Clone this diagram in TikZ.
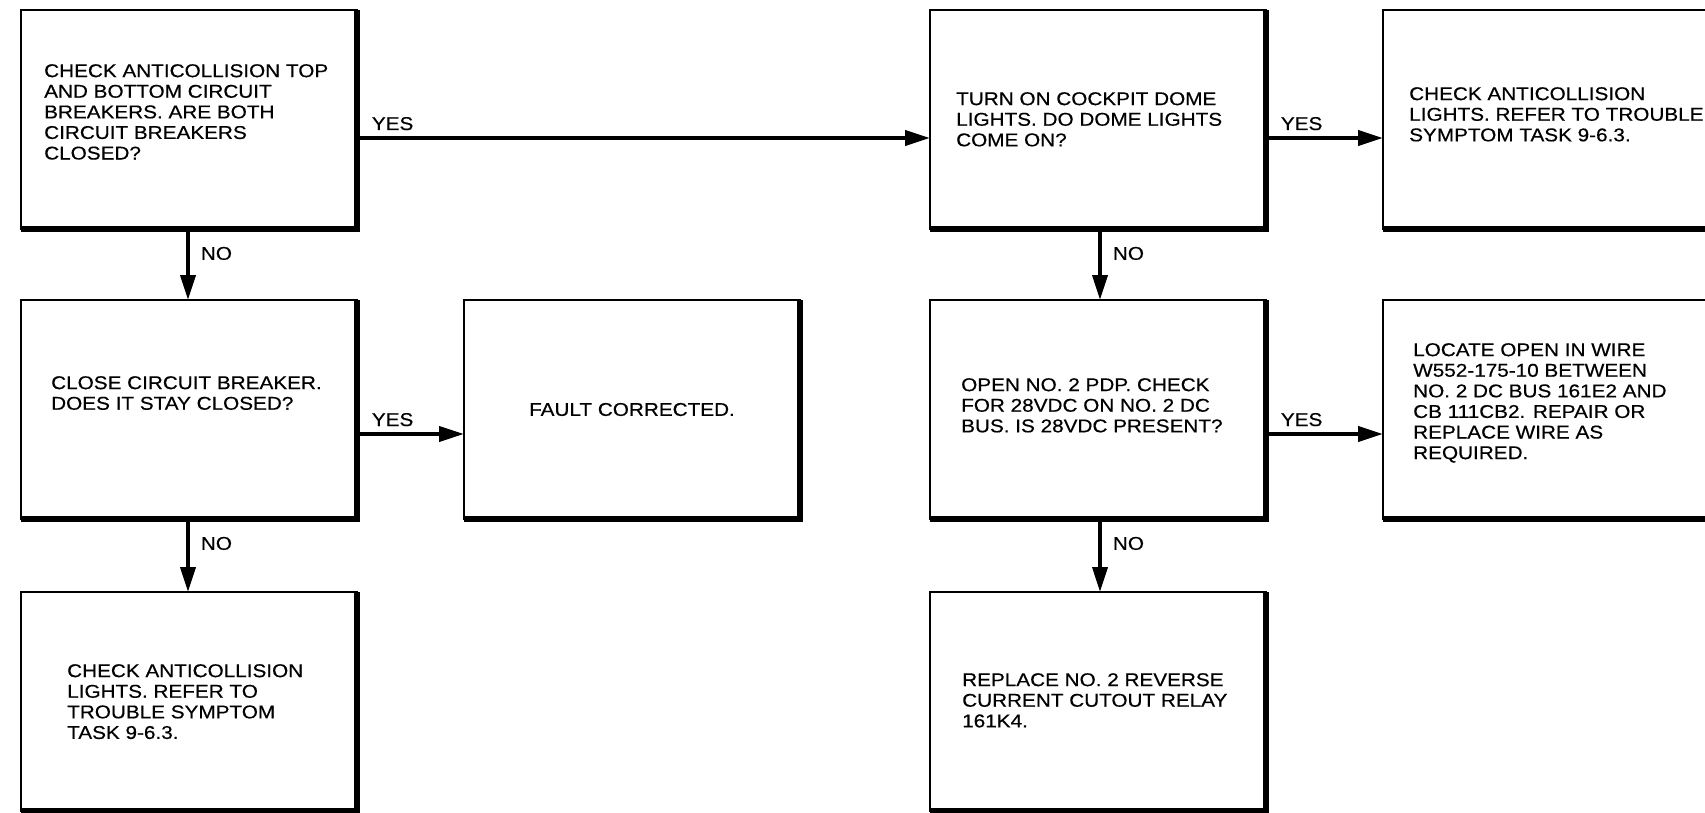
\documentclass[tikz,border=0pt]{standalone}
\usepackage{fontspec}
\setmainfont{Liberation Sans}[FakeStretch=1.12,FakeBold=0.4]
\usetikzlibrary{arrows.meta}
\begin{document}
\begin{tikzpicture}[x=1pt,y=-1pt,
  box/.style={draw, line width=2.2pt, rectangle, minimum width=336pt, minimum height=219pt, inner sep=0pt, outer sep=0pt, anchor=north west},
  heavyedge/.style={line width=6pt},
  txt/.style={font=\fontsize{18.5}{20.6}\selectfont, align=left, inner sep=0pt, anchor=north west},
  lbl/.style={font=\fontsize{18.5}{20.6}\selectfont, inner sep=0pt},
  arr/.style={line width=3.8pt, -{Triangle[length=25pt,width=15pt]}}]
\useasboundingbox (0,0) rectangle (1705,813);
\fill[white] (0,0) rectangle (1705,813);
\clip (0,0) rectangle (1705,813);
% boxes
\node[box] (b1) at (21,10) {};
\node[box] (turn) at (930,10) {};
\node[box] (rchk) at (1383,10) {};
\node[box] (close) at (21,300) {};
\node[box] (fault) at (464,300) {};
\node[box] (open) at (930,300) {};
\node[box] (locate) at (1383,300) {};
\node[box] (b3) at (21,592) {};
\node[box] (replace) at (930,592) {};
\foreach \n in {b1,turn,rchk,close,fault,open,locate,b3,replace}
  \draw[heavyedge] (\n.north east) -- (\n.south east) -- (\n.south west);
% texts
\node[txt] (b1t) at ([shift={(23,54)}]b1.north west) {CHECK ANTICOLLISION TOP\\AND BOTTOM CIRCUIT\\BREAKERS. ARE BOTH\\CIRCUIT BREAKERS\\CLOSED?};
\node[txt] (turnt) at ([shift={(26,82)}]turn.north west) {TURN ON COCKPIT DOME\\LIGHTS. DO DOME LIGHTS\\COME ON?};
\node[txt] (rchkt) at ([shift={(26,77)}]rchk.north west) {CHECK ANTICOLLISION\\LIGHTS. REFER TO TROUBLE\\SYMPTOM TASK 9-6.3.};
\node[txt] (closet) at ([shift={(30,76)}]close.north west) {CLOSE CIRCUIT BREAKER.\\DOES IT STAY CLOSED?};
\node[lbl] (faultt) at (fault.center) {FAULT CORRECTED.};
\node[txt] (opent) at ([shift={(31,78)}]open.north west) {OPEN NO. 2 PDP. CHECK\\FOR 28VDC ON NO. 2 DC\\BUS. IS 28VDC PRESENT?};
\node[txt] (locatet) at ([shift={(30,43)}]locate.north west) {LOCATE OPEN IN WIRE\\W552-175-10 BETWEEN\\NO. 2 DC BUS 161E2 AND\\CB 111CB2. REPAIR OR\\REPLACE WIRE AS\\REQUIRED.};
\node[txt] (b3t) at ([shift={(46,72)}]b3.north west) {CHECK ANTICOLLISION\\LIGHTS. REFER TO\\TROUBLE SYMPTOM\\TASK 9-6.3.};
\node[txt] (replacet) at ([shift={(32,81)}]replace.north west) {REPLACE NO. 2 REVERSE\\CURRENT CUTOUT RELAY\\161K4.};
% connectors
\draw[arr] ([yshift=-128pt]b1.north east) -- ([yshift=-128pt]turn.north west)
  node[lbl, pos=0, anchor=base west, xshift=13pt, yshift=8pt] (y1) {YES};
\draw[arr] ([yshift=-128pt]turn.north east) -- ([yshift=-128pt]rchk.north west)
  node[lbl, pos=0, anchor=base west, xshift=13pt, yshift=8pt] (y2) {YES};
\draw[arr] ([yshift=-134pt]close.north east) -- ([yshift=-134pt]fault.north west)
  node[lbl, pos=0, anchor=base west, xshift=13pt, yshift=8pt] (y3) {YES};
\draw[arr] ([yshift=-134pt]open.north east) -- ([yshift=-134pt]locate.north west)
  node[lbl, pos=0, anchor=base west, xshift=13pt, yshift=8pt] (y4) {YES};
\draw[arr] ([xshift=167pt]b1.south west) -- ([xshift=167pt]close.north west)
  node[lbl, pos=0, anchor=north west, xshift=11pt, yshift=-16pt] (n1) {NO};
\draw[arr] ([xshift=167pt]close.south west) -- ([xshift=167pt]b3.north west)
  node[lbl, pos=0, anchor=north west, xshift=11pt, yshift=-16pt] (n2) {NO};
\draw[arr] ([xshift=170pt]turn.south west) -- ([xshift=170pt]open.north west)
  node[lbl, pos=0, anchor=north west, xshift=11pt, yshift=-16pt] (n3) {NO};
\draw[arr] ([xshift=170pt]open.south west) -- ([xshift=170pt]replace.north west)
  node[lbl, pos=0, anchor=north west, xshift=11pt, yshift=-16pt] (n4) {NO};
\end{tikzpicture}
\end{document}
